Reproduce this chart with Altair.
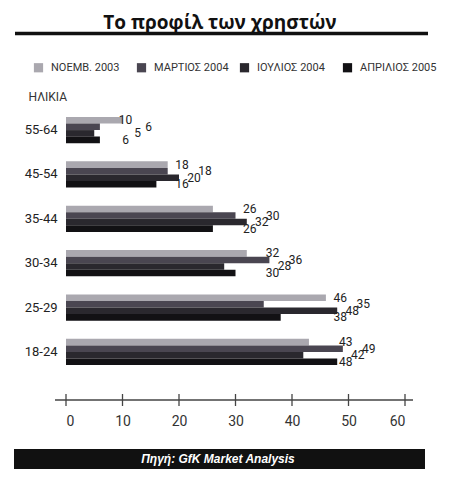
import altair as alt
import pandas as pd

ages = ["55-64", "45-54", "35-44", "30-34", "25-29", "18-24"]
series = ["ΝΟΕΜΒ. 2003", "ΜΑΡΤΙΟΣ 2004", "ΙΟΥΛΙΟΣ 2004", "ΑΠΡΙΛΙΟΣ 2005"]
nov03 = [10, 18, 26, 32, 46, 43]
mar04 = [6, 18, 30, 36, 35, 49]
jul04 = [5, 20, 32, 28, 48, 42]
apr05 = [6, 16, 26, 30, 38, 48]
tick_values = [0, 10, 20, 30, 40, 50, 60]
colors = ["#aaa8af", "#4a4651", "#2a282e", "#121114"]
title_text = "Το προφίλ των χρηστών"
source_text = "Πηγή: GfK Market Analysis"
axis_title = "ΗΛΙΚΙΑ"

rows = []
for s, vals in zip(series, [nov03, mar04, jul04, apr05]):
    for a, v in zip(ages, vals):
        rows.append({"age": a, "series": s, "value": v})
df = pd.DataFrame(rows)

FONT = "Roboto"
W, H = 339, 272

yenc = alt.Y("age:N", sort=ages,
             scale=alt.Scale(domain=ages, paddingInner=0.41, paddingOuter=0.27),
             axis=alt.Axis(title=axis_title, titleAngle=0, titleAlign="left",
                           titleBaseline="middle", titleX=-38, titleY=-9,
                           titleFont=FONT, titleFontSize=12, titleFontWeight="normal",
                           titleColor="#333", labelFont=FONT, labelFontSize=13,
                           labelColor="#222", labelPadding=9, ticks=False, domain=False))
yoff = alt.YOffset("series:N", sort=series, scale=alt.Scale(domain=series))
xenc = alt.X("value:Q", scale=alt.Scale(domain=[0, 60], nice=False),
             axis=alt.Axis(values=tick_values, title=None, domain=False, ticks=False,
                           grid=False, offset=23, labelPadding=14, labelFont=FONT,
                           labelFontSize=14, labelColor="#333"))

bars = alt.Chart(df).mark_bar().encode(
    x=xenc, y=yenc, yOffset=yoff,
    color=alt.Color("series:N", sort=series,
                    scale=alt.Scale(domain=series, range=colors),
                    legend=alt.Legend(title=None, orient="none", legendX=-33, legendY=-43,
                                      direction="horizontal", columns=4, gridAlign="all",
                                      columnPadding=8, symbolType="square", symbolSize=85,
                                      symbolStrokeWidth=0, labelFont=FONT, labelFontSize=11,
                                      labelColor="#333", labelOffset=7)),
)

dxs = [3, 26, 15, 3]
labels = []
for s, d in zip(series, dxs):
    labels.append(
        alt.Chart(df).transform_joinaggregate(gmax="max(value)", groupby=["age"])
        .transform_filter(alt.datum.series == s)
        .mark_text(dx=d, align="center", baseline="middle", font=FONT, fontSize=12, color="#222")
        .encode(x=alt.X("gmax:Q"), y=alt.Y("age:N", sort=ages), yOffset=yoff,
                text="value:Q")
    )

one = pd.DataFrame({"k": [0]})
ticks_df = pd.DataFrame({"t": tick_values})

axis_line = alt.Chart(one).mark_rule(color="#444", strokeWidth=1.3).encode(
    x=alt.value(-11), x2=alt.value(W + 8), y=alt.value(295))
axis_ticks = alt.Chart(ticks_df).mark_rule(color="#444", strokeWidth=1.3).encode(
    x=alt.X("t:Q"), y=alt.value(289), y2=alt.value(301))

title = alt.Chart(one).mark_text(text=title_text, font="Open Sans", fontSize=19,
                                 fontWeight="bold", color="#111", align="center",
                                 baseline="alphabetic").encode(
    x=alt.value(220 - 66), y=alt.value(29 - 105))
underline = alt.Chart(one).mark_rule(color="#111", strokeWidth=3.5).encode(
    x=alt.value(15 - 66), x2=alt.value(428 - 66), y=alt.value(33.5 - 105))

src_bar = alt.Chart(one).mark_rect(color="#111").encode(
    x=alt.value(14 - 66), x2=alt.value(425 - 66), y=alt.value(449 - 105), y2=alt.value(469 - 105))
src_text = alt.Chart(one).mark_text(text=source_text, font="Liberation Sans", fontSize=12,
                                    fontWeight="bold", fontStyle="italic", color="white",
                                    align="center", baseline="middle").encode(
    x=alt.value(218 - 66), y=alt.value(459 - 105))

chart = alt.layer(bars, *labels, axis_line, axis_ticks, title, underline, src_bar, src_text).properties(
    width=W, height=H,
    background="white",
    autosize=alt.AutoSizeParams(type="none"),
    padding={"left": 58, "top": 97, "right": 441 - 58 - W, "bottom": 475 - 97 - H},
).configure_view(stroke=None)

chart.save("out.html", embed_options={"renderer": "svg", "actions": False})
